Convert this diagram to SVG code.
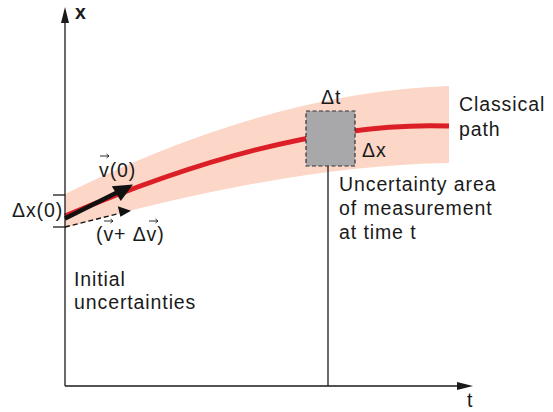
<svg xmlns="http://www.w3.org/2000/svg" width="553" height="412" viewBox="0 0 553 412">
<style>
text{font-family:"Liberation Sans",Arial,sans-serif;font-size:19.5px;fill:#1a1a1a;letter-spacing:0.9px}
.ax{stroke:#1a1a1a;stroke-width:1.3;fill:none}
.vec{stroke:#1a1a1a;stroke-width:0.9;fill:none}
</style>
<rect width="553" height="412" fill="#fff"/>
<g id="band">
<path d="M65,194 Q270,92 449,86 L449,163 Q290,165 65,228 Z" fill="#fcd6c6"/>
</g>
<g id="classical-path">
<path d="M65,216 Q290,120 449,126" fill="none" stroke="#dc1f26" stroke-width="5"/>
</g>
<g id="connectors">
<line class="ax" x1="65" y1="386" x2="65" y2="22"/>
<path d="M65,7 L69,23 L61,23 Z" fill="#1a1a1a"/>
<line class="ax" x1="65" y1="386" x2="458" y2="386"/>
<path d="M473,386 L457,382 L457,390 Z" fill="#1a1a1a"/>
<line class="ax" x1="53" y1="195" x2="65" y2="195"/>
<line class="ax" x1="53" y1="227" x2="65" y2="227"/>
<line class="ax" x1="328" y1="166" x2="328" y2="386"/>
<line x1="65" y1="218.5" x2="117" y2="192.5" stroke="#111" stroke-width="4.5"/>
<path d="M133,184.5 L111.8,186.2 L120.8,201 Z" fill="#111"/>
<line x1="65" y1="227" x2="119" y2="213.5" stroke="#111" stroke-width="1.4" stroke-dasharray="5,3"/>
<path d="M131,210.7 L117.8,206.3 L120.4,216.7 Z" fill="#111"/>
</g>
<g id="measurement-box">
<rect x="306" y="111" width="49" height="55" fill="#a8a8aa" stroke="#333" stroke-width="1.2" stroke-dasharray="4,2.5"/>
</g>
<g id="labels">
<text x="75" y="19" style="font-weight:bold">x</text>
<text x="467" y="407">t</text>
<text x="12" y="217">Δx(0)</text>
<text x="99" y="177">v(0)</text>
<path class="vec" d="M100,156 H109 M106.5,154 L109,156 L106.5,158"/>
<text x="96" y="241">(v+ Δv)</text>
<path class="vec" d="M104,221 H113 M110.5,219 L113,221 L110.5,223"/>
<path class="vec" d="M149,221 H158 M155.5,219 L158,221 L155.5,223"/>
<text x="321" y="104">Δt</text>
<text x="362" y="157">Δx</text>
<text x="459" y="111">Classical</text>
<text x="459" y="136">path</text>
<text x="339" y="191">Uncertainty area</text>
<text x="339" y="215">of measurement</text>
<text x="339" y="239">at time t</text>
<text x="74" y="286">Initial</text>
<text x="74" y="309">uncertainties</text>
</g>
</svg>
